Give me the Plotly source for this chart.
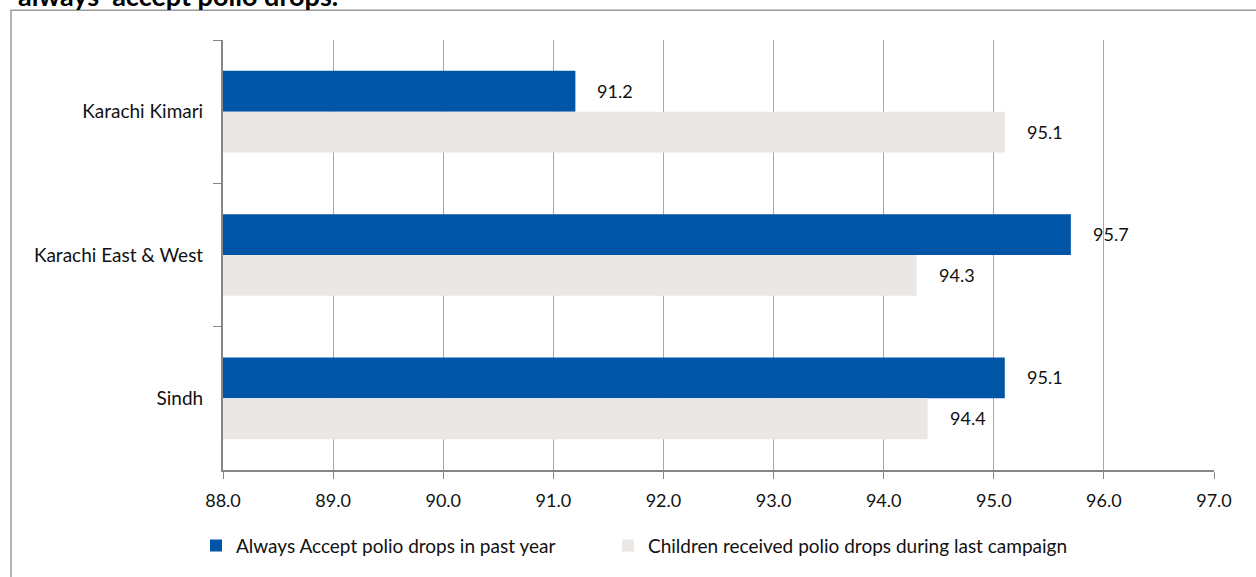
import plotly.graph_objects as go

# Survey results by area (percent)
areas = ["Karachi Kimari", "Karachi East & West", "Sindh"]
always_accept = [91.2, 95.7, 95.1]
received_last_campaign = [95.1, 94.3, 94.4]
series_names = ["Always Accept polio drops in past year",
                "Children received polio drops during last campaign"]
x_ticks = [88.0, 89.0, 90.0, 91.0, 92.0, 93.0, 94.0, 95.0, 96.0, 97.0]

BLUE = "#0055A6"
LIGHT = "#EBE7E4"
AXIS = "#868686"
GRID = "#A8A8A8"
TEXT = "#111111"
FONT = "Lato"
FS = 19

W, H = 1256, 577
L, R, T, B = 223, 42, 40, 105
pw, ph = W - L - R, H - T - B

fig = go.Figure()
fig.add_trace(go.Bar(y=areas, x=always_accept, orientation="h", name=series_names[0],
                     marker=dict(color=BLUE, line=dict(width=0)), legend="legend"))
fig.add_trace(go.Bar(y=areas, x=received_last_campaign, orientation="h", name=series_names[1],
                     marker=dict(color=LIGHT, line=dict(width=0)), legend="legend2"))

# value labels just past the bar ends
annotations = []
for trace_idx, vals in enumerate([always_accept, received_last_campaign]):
    for i, v in enumerate(vals):
        annotations.append(dict(
            x=v, y=areas[i], xref="x", yref="y", text=f"{v:.1f}",
            showarrow=False, xanchor="left", xshift=20,
            yshift=(21 if trace_idx == 0 else -20),
            font=dict(family=FONT, size=18, color=TEXT)))

# heading line, partly above the top edge
annotations.append(dict(
    x=(16 - L) / pw, y=(H - B + 5) / ph, xref="paper", yref="paper",
    text="<b>always  accept polio drops.</b>", showarrow=False,
    xanchor="left", yanchor="middle", font=dict(family=FONT, size=27, color="#000000")))

shapes = [dict(type="rect", xref="paper", yref="paper",
               x0=(11 - L) / pw, x1=(W + 20 - L) / pw,
               y0=(H - B - (H + 20)) / ph, y1=(H - B - 10) / ph,
               line=dict(color="#9A9A9A", width=1.5), fillcolor="rgba(0,0,0,0)", layer="below")]

legend_common = dict(orientation="h", xanchor="left", y=(H - B - 548) / ph, yanchor="middle",
                     font=dict(family=FONT, size=FS, color=TEXT),
                     bgcolor="rgba(0,0,0,0)", itemclick=False)

fig.update_layout(
    width=W, height=H,
    margin=dict(l=L, r=R, t=T, b=B),
    paper_bgcolor="white", plot_bgcolor="white",
    barmode="group", bargap=0.43, bargroupgap=0,
    font=dict(family=FONT, size=FS, color=TEXT),
    showlegend=True,
    legend=dict(x=(196 - L) / pw, **legend_common),
    legend2=dict(x=(608 - L) / pw, **legend_common),
    annotations=annotations,
    shapes=shapes,
    xaxis=dict(range=[88, 97], tickvals=x_ticks, ticktext=[f"{t:.1f}" for t in x_ticks],
               showgrid=True, gridcolor=GRID, gridwidth=1,
               showline=True, linecolor=AXIS, linewidth=2,
               ticks="outside", ticklen=7, tickcolor=AXIS, tickwidth=1,
               zeroline=False, ticklabelstandoff=6, tickfont=dict(size=18)),
    yaxis=dict(categoryorder="array", categoryarray=areas, autorange="reversed",
               showgrid=False, showline=True, linecolor=AXIS, linewidth=2,
               ticks="outside", tickson="boundaries", ticklen=8, tickcolor=AXIS, tickwidth=1,
               ticklabelstandoff=14),
)

fig.write_html("out.html")
